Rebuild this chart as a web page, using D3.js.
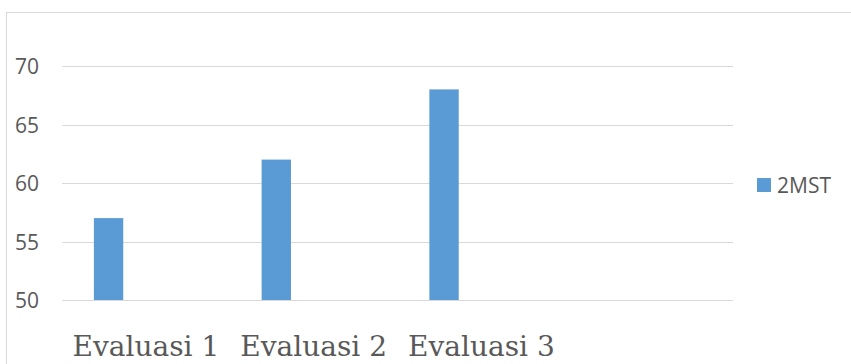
<!DOCTYPE html>
<html>
<head>
<meta charset="utf-8">
<script src="https://cdn.jsdelivr.net/npm/d3@7/dist/d3.min.js"></script>
<style>
  html, body { margin: 0; padding: 0; background: #fff; }
  svg { display: block; }
</style>
</head>
<body>
<svg id="chart" width="851" height="364"></svg>
<script>
// Category slots (the fourth slot is left empty)
const categories = ["Evaluasi 1", "Evaluasi 2", "Evaluasi 3", ""];
const seriesName = "2MST";
const values = [57, 62, 68];
const yTicks = [50, 55, 60, 65, 70];

const svg = d3.select("#chart");

// plot area
const plot = { left: 62, right: 733, top: 66, bottom: 300 };

// outer chart border (extends past the right and bottom edges)
svg.append("rect")
  .attr("x", 6.5).attr("y", 12.5)
  .attr("width", 1000).attr("height", 1000)
  .attr("fill", "none")
  .attr("stroke", "#d9d9d9")
  .attr("stroke-width", 1);

const x = d3.scaleBand()
  .domain(categories.map((c, i) => i))
  .range([plot.left, plot.right])
  .paddingInner(0).paddingOuter(0);

const y = d3.scaleLinear()
  .domain([50, 70])
  .range([plot.bottom, plot.top]);

// gridlines
svg.append("g")
  .selectAll("line")
  .data(yTicks)
  .join("line")
  .attr("x1", plot.left).attr("x2", plot.right)
  .attr("y1", d => Math.round(y(d)) + 0.5)
  .attr("y2", d => Math.round(y(d)) + 0.5)
  .attr("stroke", "#d9d9d9")
  .attr("stroke-width", 1.2);

// y tick labels
const yAxis = d3.axisLeft(y).tickValues(yTicks).tickSize(0).tickPadding(0);
const gy = svg.append("g")
  .attr("transform", `translate(39,0)`)
  .call(yAxis);
gy.select(".domain").remove();
gy.selectAll("text")
  .attr("font-family", "'Open Sans', sans-serif")
  .attr("font-size", 21)
  .attr("fill", "#595959")
  .attr("dy", "0.36em");

// bars
const bw = x.bandwidth();
svg.append("g")
  .selectAll("rect")
  .data(values)
  .join("rect")
  .attr("x", (d, i) => x(i) + bw * 0.19)
  .attr("width", bw * 0.175)
  .attr("y", d => y(d))
  .attr("height", d => y(50) - y(d))
  .attr("fill", "#5b9bd5");

// category axis labels
const xAxis = d3.axisBottom(x).tickFormat(i => categories[i]).tickSize(0).tickPadding(0);
const gx = svg.append("g")
  .attr("transform", `translate(0,${plot.bottom})`)
  .call(xAxis);
gx.select(".domain").remove();
gx.selectAll("text")
  .attr("font-family", "'DejaVu Serif', serif")
  .attr("font-size", 28)
  .attr("fill", "#595959")
  .attr("dy", null)
  .attr("y", 56);

// legend
const lg = svg.append("g").attr("transform", "translate(757,178)");
lg.append("rect")
  .attr("width", 14).attr("height", 14)
  .attr("fill", "#5b9bd5");
lg.append("text")
  .attr("x", 20).attr("y", 7)
  .attr("dy", "0.36em")
  .attr("font-family", "'Open Sans', sans-serif")
  .attr("font-size", 21)
  .attr("fill", "#595959")
  .text(seriesName);
</script>
</body>
</html>
